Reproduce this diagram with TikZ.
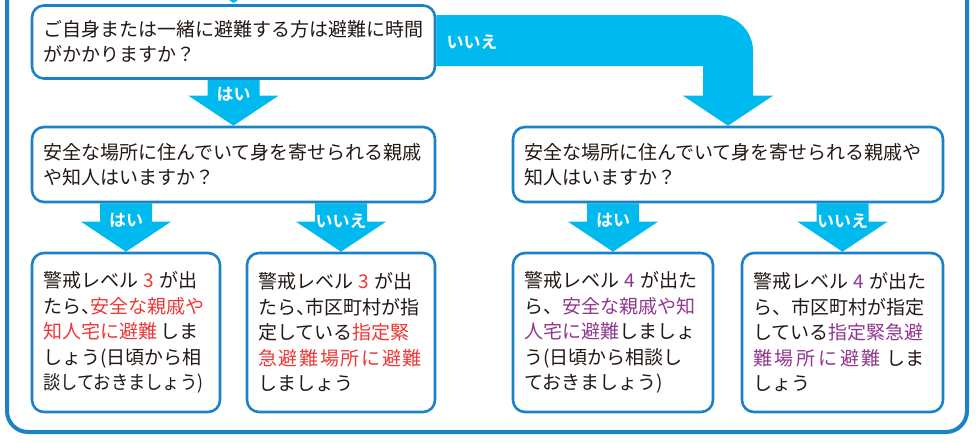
\documentclass[tikz,border=0pt]{standalone}
\usepackage{fontspec}
\usepackage{graphicx}
\setmainfont{Noto Sans CJK JP}[BoldFont={Noto Sans CJK JP Bold}]
\usetikzlibrary{calc}
\definecolor{boxblue}{RGB}{28,130,198}
\definecolor{arrowc}{RGB}{0,185,239}
\definecolor{txt}{RGB}{35,24,21}
\definecolor{redt}{RGB}{240,55,55}
\definecolor{purt}{RGB}{146,55,145}
\newcommand\hc{\makebox[0.5em][l]{、}}
\newcommand\rd[1]{\textcolor{redt}{#1}}
\newcommand\pp[1]{\textcolor{purt}{#1}}
\newcommand\blockarr[4]{%
  \fill[arrowc] let \p1=(#1.south), \p2=(#2.north) in
    (\x2-26pt,\y1) -- (\x2-26pt,\y2+30pt) -- (\x2-45pt,\y2+30pt) -- (\x2,\y2)
    -- (\x2+45pt,\y2+30pt) -- (\x2+26pt,\y2+30pt) -- (\x2+26pt,\y1) -- cycle;
  \path let \p2=(#2.north) in node[lbl] (#3) at (\x2,\y2+31pt) {#4};}
\begin{document}
\begin{tikzpicture}[x=1pt,y=-1pt,
  qbox/.style={draw=boxblue, line width=2.6pt, fill=white, rounded corners=12pt,
    align=left, inner xsep=11pt, inner ysep=0pt, text=txt,
    font=\fontsize{19}{25}\selectfont, anchor=center},
  abox/.style={qbox, font=\fontsize{19}{25.5}\selectfont},
  lbl/.style={text=white, font=\fontsize{17}{17}\bfseries\selectfont, inner sep=0pt}]
\useasboundingbox (0,0) rectangle (976,442);
\clip (0,0) rectangle (976,442);
% outer frame
\draw[boxblue, line width=4pt, rounded corners=21pt] (7,-40) -- (7,432) -- (967,432) -- (967,-40);
% incoming arrow tip from above
\coordinate (topin) at (233.5,3);
\fill[arrowc] let \p1=(topin) in (\x1-45pt,\y1+30pt) -- (\x1,\y1) -- (\x1+45pt,\y1+30pt) -- cycle;
% box frames (positions) used by the arrows
\path (233.5,40.5) node[qbox, text width=381pt, minimum height=73pt, draw=none, fill=none] (q1) {};
\path (233.5,164.5) node[qbox, text width=381pt, minimum height=75pt, draw=none, fill=none] (q2) {};
\path (728,164.5) node[qbox, text width=408pt, minimum height=75pt, draw=none, fill=none] (q3) {};
\path (126,332.5) node[abox, text width=166pt, minimum height=159pt, draw=none, fill=none] (a) {};
\path (341,332.5) node[abox, text width=166pt, minimum height=159pt, draw=none, fill=none] (b) {};
\path (613,332.5) node[abox, text width=178pt, minimum height=159pt, draw=none, fill=none] (c) {};
\path (842.5,332.5) node[abox, text width=179pt, minimum height=159pt, draw=none, fill=none] (d) {};
\blockarr{q1}{q2}{l1}{はい}
\blockarr{q2}{a}{l2}{はい}
\blockarr{q2}{b}{l3}{いいえ}
\blockarr{q3}{c}{l4}{はい}
\blockarr{q3}{d}{l5}{いいえ}
% bent arrow q1 -> q3
\fill[arrowc] let \p1=(q1.east), \p2=(q3.north) in
  (\x1,\y1+25.5pt) -- (\x2+25pt-36pt,\y1+25.5pt) arc[start angle=90, end angle=0, radius=36pt]
  -- (\x2+25pt,\y2+30pt) -- (\x2+45pt,\y2+30pt) -- (\x2,\y2) -- (\x2-45pt,\y2+30pt)
  -- (\x2-25pt,\y2+30pt) -- (\x2-25pt,\y1-25.5pt) -- (\x1,\y1-25.5pt) -- cycle;
\node[lbl, anchor=west] (l6) at ([xshift=10pt,yshift=-2pt]q1.east) {いいえ};
% boxes with text
\node[qbox, text width=381pt, minimum height=73pt] (q1b) at ([yshift=-1.5pt]q1) {ご自身または一緒に避難する方は避難に時間\\がかかりますか？};
\node[qbox, text width=381pt, minimum height=75pt] (q2b) at (q2) {安全な場所に住んでいて身を寄せられる親戚\\や知人はいますか？};
\node[qbox, text width=408pt, minimum height=75pt] (q3b) at (q3) {安全な場所に住んでいて身を寄せられる親戚や\\知人はいますか？};
\node[abox, text width=166pt, minimum height=159pt] (ab) at (a) {警戒レベル\hspace{0.3em}\rd{3}\hspace{0.3em}が出\\たら\hc\rd{安全な親戚や}\\\rd{知人宅に避難}\hspace{0.2em}しま\\しょう(日頃から相\\\scalebox{0.91}[1]{談しておきましょう)}};
\node[abox, text width=166pt, minimum height=159pt] (bb) at (b) {警戒レベル\hspace{0.3em}\rd{3}\hspace{0.3em}が出\\たら\hc 市区町村が指\\定している\rd{指定緊}\\\makebox[164pt][s]{\rd{急\hfil 避\hfil 難\hfil 場\hfil 所\hfil に\hfil 避\hfil 難}}\\しましょう};
\node[abox, text width=178pt, minimum height=159pt] (cb) at (c) {警戒レベル\hspace{0.3em}\pp{4}\hspace{0.3em}が出た\\ら、\pp{安全な親戚や知}\\\pp{人宅に避難}しましょ\\う(日頃から相談し\\ておきましょう)};
\node[abox, text width=179pt, minimum height=159pt] (db) at (d) {警戒レベル\hspace{0.3em}\pp{4}\hspace{0.3em}が出た\\ら、市区町村が指定\\している\pp{指定緊急避}\\\makebox[128pt][s]{\pp{難\hfil 場\hfil 所\hfil に\hfil 避\hfil 難}}\hspace{0.3em}しま\\しょう};
\end{tikzpicture}
\end{document}
